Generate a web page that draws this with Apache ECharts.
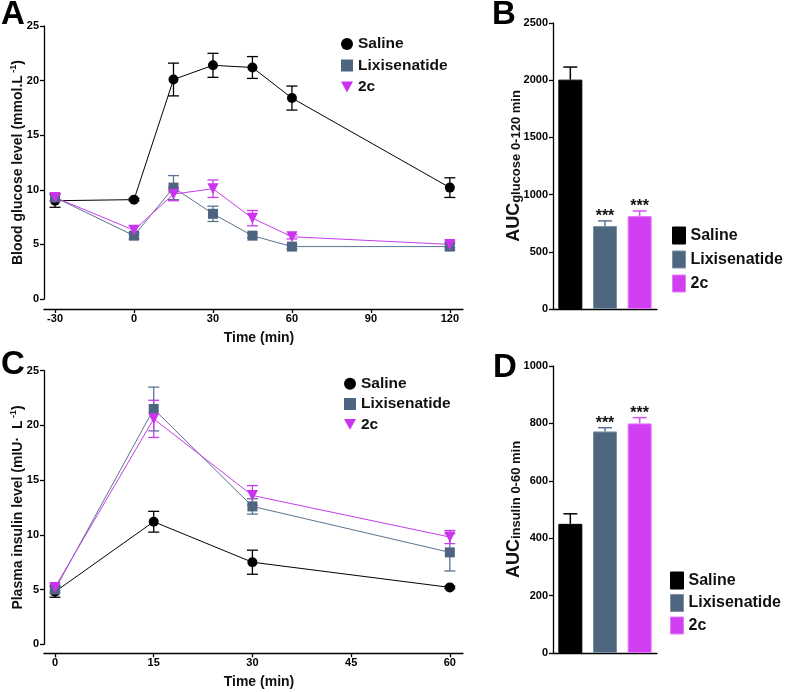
<!DOCTYPE html>
<html><head><meta charset="utf-8">
<script src="https://cdn.jsdelivr.net/npm/echarts@6/dist/echarts.min.js"></script>
<style>html,body{margin:0;padding:0;background:#fff}#c{width:787px;height:692px}</style>
</head><body><div id="c"></div>
<script>
// ---------- DATA ----------
const groups = ['Saline', 'Lixisenatide', '2c'];

const glucoseTime = [-30, 0, 15, 30, 45, 60, 120];
const glucoseSaline = [9.0, 9.1, 20.1, 21.4, 21.2, 18.4, 10.2];
const glucoseSalineErr = [0.6, 0.1, 1.5, 1.1, 1.0, 1.1, 0.9];
const glucoseLixi = [9.3, 5.8, 10.2, 7.8, 5.8, 4.8, 4.8];
const glucoseLixiErr = [0.3, 0.3, 1.1, 0.7, 0.2, 0.2, 0.3];
const glucose2c = [9.3, 6.3, 9.6, 10.1, 7.4, 5.7, 5.0];
const glucose2cErr = [0.3, 0.4, 0.6, 0.8, 0.7, 0.2, 0.3];
const glucoseTicksX = [-30, 0, 30, 60, 90, 120];

const insulinTime = [0, 15, 30, 60];
const insulinSaline = [4.8, 11.2, 7.5, 5.2];
const insulinSalineErr = [0.5, 0.95, 1.1, 0.1];
const insulinLixi = [5.0, 21.5, 12.6, 8.4];
const insulinLixiErr = [0.3, 2.0, 0.7, 1.7];
const insulin2c = [5.2, 20.6, 13.6, 9.8];
const insulin2cErr = [0.3, 1.7, 0.9, 0.6];
const insulinTicksX = [0, 15, 30, 45, 60];

const aucGlucose = [2005, 725, 812];
const aucGlucoseErr = [110, 45, 45];
const aucInsulin = [450, 772, 800];
const aucInsulinErr = [35, 13, 20];
const sigLabels = ['', '***', '***'];

// ---------- STYLE ----------
const FONT = 'Liberation Sans, Arial, sans-serif';
const lineColors = ['#000000', '#5a7491', '#c83cec'];
const markerColors = ['#000000', '#4d6581', '#cc33ee'];
const barColors = ['#000000', '#4f6680', '#d23ff2'];
const barBorders = ['#000000', '#7f90a4', '#e27cf6'];
const errBarColors = ['#000000', '#5a7491', '#d650f2'];
const symbols = ['circle', 'rect', 'triangle'];
const legendIcons = ['circle', 'rect', 'path://M0,0L10,0L5,9Z'];

const axLine = { show: true, onZero: false, lineStyle: { color: '#000', width: 1.3 } };
const axTick = { show: true, length: 4, lineStyle: { color: '#000', width: 1.3 } };
const axLabel = { fontFamily: FONT, fontWeight: 'bold', fontSize: 11, color: '#000', formatter: v => String(v) };

function lineErr(color) {
  return function (params, api) {
    const x = api.value(0), y = api.value(1), e = api.value(2);
    const t = api.coord([x, y + e]), b = api.coord([x, y - e]);
    const hw = 5.5, st = { stroke: color, lineWidth: 1.3 };
    return { type: 'group', children: [
      { type: 'line', shape: { x1: t[0], y1: t[1], x2: b[0], y2: b[1] }, style: st },
      { type: 'line', shape: { x1: t[0] - hw, y1: t[1], x2: t[0] + hw, y2: t[1] }, style: st },
      { type: 'line', shape: { x1: b[0] - hw, y1: b[1], x2: b[0] + hw, y2: b[1] }, style: st }
    ]};
  };
}
function barErr(params, api) {
  const i = api.value(0), v = api.value(1), e = api.value(2);
  const base = api.coord([i, v]), t = api.coord([i, v + e]);
  const st = { stroke: errBarColors[i], lineWidth: 1.5 };
  const hw = 7;
  return { type: 'group', children: [
    { type: 'line', shape: { x1: base[0], y1: base[1], x2: t[0], y2: t[1] }, style: st },
    { type: 'line', shape: { x1: t[0] - hw, y1: t[1], x2: t[0] + hw, y2: t[1] }, style: st },
    { type: 'text', x: t[0], y: t[1] - 4, style: { text: sigLabels[params.dataIndex], fill: '#111', font: 'bold 16px ' + FONT, align: 'center', verticalAlign: 'middle' } }
  ]};
}

const series = [];
function addLinePanel(axisIdx, time, vals, errs) {
  vals.forEach((arr, g) => {
    series.push({
      type: 'custom', name: groups[g] + ' err' + axisIdx, xAxisIndex: axisIdx, yAxisIndex: axisIdx,
      renderItem: lineErr(lineColors[g]), encode: { x: 0, y: 1 },
      data: time.map((t, i) => [t, arr[i], errs[g][i]]), z: 2, silent: true
    });
    series.push({
      type: 'line', name: groups[g], xAxisIndex: axisIdx, yAxisIndex: axisIdx,
      data: time.map((t, i) => [t, arr[i]]),
      symbol: symbols[g], symbolSize: g === 2 ? 11 : 10, symbolRotate: g === 2 ? 180 : 0,
      showSymbol: true, lineStyle: { color: lineColors[g], width: 1 },
      itemStyle: { color: markerColors[g] }, z: 3, animation: false
    });
  });
}
function addBarPanel(axisIdx, vals, errs) {
  series.push({
    type: 'bar', name: 'bar' + axisIdx, xAxisIndex: axisIdx, yAxisIndex: axisIdx, barWidth: 24,
    data: vals.map((v, i) => ({ value: v, itemStyle: { color: barColors[i], borderColor: barBorders[i], borderWidth: 1 } })),
    z: 2, animation: false
  });
  series.push({
    type: 'custom', name: 'barerr' + axisIdx, xAxisIndex: axisIdx, yAxisIndex: axisIdx,
    renderItem: barErr, encode: { x: 0, y: 1 },
    data: vals.map((v, i) => [i, v, errs[i]]), z: 3, silent: true
  });
}

addLinePanel(0, glucoseTime, [glucoseSaline, glucoseLixi, glucose2c], [glucoseSalineErr, glucoseLixiErr, glucose2cErr]);
addBarPanel(1, aucGlucose, aucGlucoseErr);
addLinePanel(2, insulinTime, [insulinSaline, insulinLixi, insulin2c], [insulinSalineErr, insulinLixiErr, insulin2cErr]);
addBarPanel(3, aucInsulin, aucInsulinErr);

const nameRich = {
  n: { fontFamily: FONT, fontWeight: 'bold', fontSize: 14, color: '#111', lineHeight: 16, verticalAlign: 'bottom' },
  s: { fontFamily: FONT, fontWeight: 'bold', fontSize: 9, color: '#111', lineHeight: 9, verticalAlign: 'top' }
};
const aucRich = {
  n: { fontFamily: FONT, fontWeight: 'bold', fontSize: 18, color: '#111', lineHeight: 18, verticalAlign: 'top' },
  s: { fontFamily: FONT, fontWeight: 'bold', fontSize: 13, color: '#111', lineHeight: 13, verticalAlign: 'bottom', padding: [8, 0, 0, 0] }
};

function valueX(idx, min, max, ticks, off) {
  return {
    type: 'value', gridIndex: idx, min: min, max: max, offset: off,
    axisLine: axLine, axisTick: Object.assign({ customValues: ticks }, axTick),
    axisLabel: Object.assign({ customValues: ticks, margin: 4 }, axLabel),
    splitLine: { show: false },
    name: 'Time (min)', nameLocation: 'middle', nameGap: 22,
    nameTextStyle: { fontFamily: FONT, fontWeight: 'bold', fontSize: 14, color: '#111', padding: [0, 0, 0, 11] }
  };
}
function catX(idx) {
  return {
    type: 'category', gridIndex: idx, data: groups,
    axisLine: axLine, axisTick: { show: false }, axisLabel: { show: false }, splitLine: { show: false }
  };
}
function valueY(idx, max, interval, name, rich, gap) {
  return {
    type: 'value', gridIndex: idx, min: 0, max: max, interval: interval,
    axisLine: axLine, axisTick: axTick,
    axisLabel: Object.assign({ margin: 5 }, axLabel), splitLine: { show: false },
    name: name, nameLocation: 'middle', nameRotate: 90, nameGap: gap, nameMoveOverlap: false,
    nameTextStyle: { rich: rich }
  };
}

function lineLegend(left, top, gap) {
  return {
    orient: 'vertical', left: left, top: top, padding: 0, itemWidth: 12, itemHeight: 12, itemGap: gap,
    selectedMode: false,
    textStyle: { fontFamily: FONT, fontWeight: 'bold', fontSize: 15.5, color: '#111', lineHeight: 12 },
    data: groups.map((g, i) => ({ name: g, icon: legendIcons[i], itemStyle: { color: markerColors[i] } }))
  };
}
function barLegend(left, top, gap) {
  return {
    orient: 'vertical', left: left, top: top, padding: 0, itemWidth: 13, itemHeight: 17, itemGap: gap,
    selectedMode: false,
    textStyle: { fontFamily: FONT, fontWeight: 'bold', fontSize: 16, color: '#111', lineHeight: 17 },
    data: groups.map((g, i) => ({ name: g, icon: 'rect', itemStyle: { color: barColors[i], borderColor: barBorders[i], borderWidth: 1 } }))
  };
}

const panelLetter = (t, x, y) => ({ type: 'text', x: x, y: y, style: { text: t, font: 'bold 33px ' + FONT, fill: '#000', align: 'left', verticalAlign: 'middle' } });

const option = {
  backgroundColor: '#fff',
  animation: false,
  grid: [
    { left: 44, top: 26, width: 419, height: 273, outerBoundsMode: 'none' },
    { left: 553, top: 23, width: 104, height: 286, outerBoundsMode: 'none' },
    { left: 44, top: 370.7, width: 419, height: 273.6, outerBoundsMode: 'none' },
    { left: 553, top: 366, width: 104, height: 287, outerBoundsMode: 'none' }
  ],
  xAxis: [
    valueX(0, -34.2, 125, glucoseTicksX, 10),
    catX(1),
    valueX(2, -1.67, 62, insulinTicksX, 9),
    catX(3)
  ],
  yAxis: [
    valueY(0, 25, 5, '{n|Blood glucose level (mmol.L}{s| -1}{n|)}', nameRich, 19),
    valueY(1, 2500, 500, '{n|AUC}{s|glucose 0-120 min}', aucRich, 30),
    valueY(2, 25, 5, '{n|Plasma insulin level (mIU·  L}{s| -1}{n|)}', nameRich, 19),
    valueY(3, 1000, 200, '{n|AUC}{s|insulin 0-60 min}', aucRich, 30)
  ],
  legend: [lineLegend(341, 36, 5.5), barLegend(672, 226.5, 6), lineLegend(344, 375.7, 4.3), barLegend(670, 571.5, 4.5)],
  graphic: [panelLetter('A', 1, 15), panelLetter('B', 492, 15), panelLetter('C', 1, 365), panelLetter('D', 493, 368)],
  series: series
};

const chart = echarts.init(document.getElementById('c'), null, { renderer: 'canvas' });
chart.setOption(option);
</script></body></html>
